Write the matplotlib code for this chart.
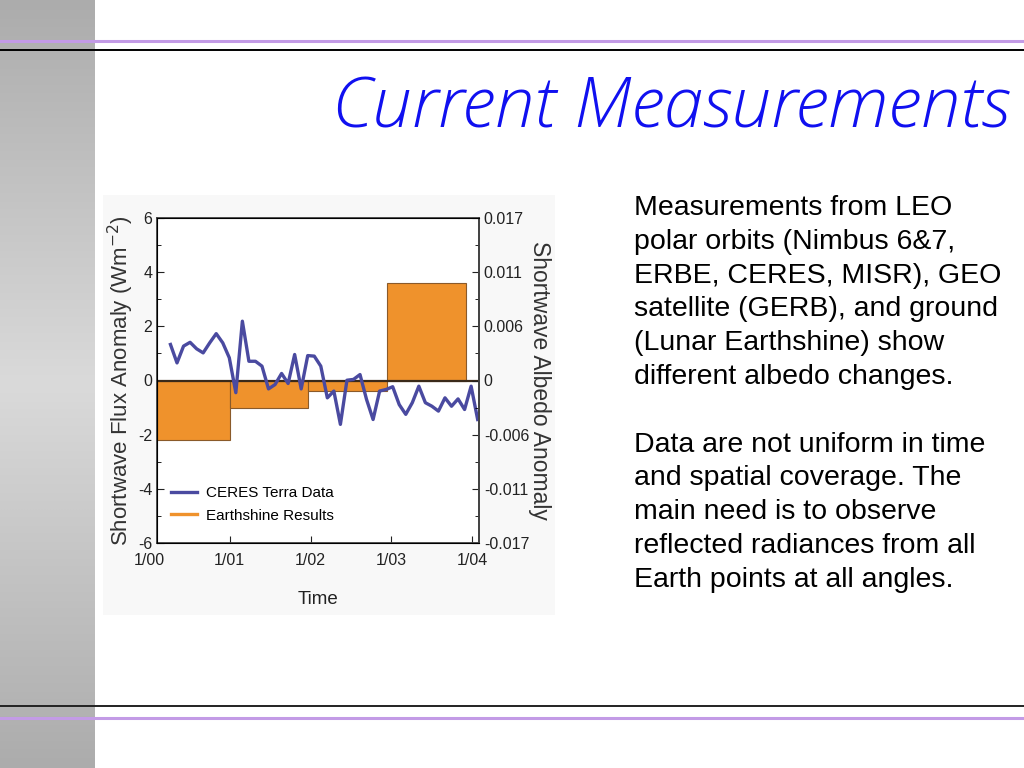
import numpy as np
import matplotlib
matplotlib.use("Agg")
import matplotlib.pyplot as plt
from matplotlib.patches import Rectangle
from matplotlib.lines import Line2D
from matplotlib.colors import LinearSegmentedColormap

plt.rcParams["axes.unicode_minus"] = False

# --- data ---
# CERES Terra monthly flux anomaly (W m-2), starting spring 2000
ceres = [1.33, 0.65, 1.27, 1.41, 1.17, 1.02, 1.39, 1.73, 1.39, 0.84, -0.45, 2.19,
         0.71, 0.71, 0.53, -0.31, -0.15, 0.26, -0.11, 0.96, -0.31, 0.92, 0.90, 0.53,
         -0.64, -0.39, -1.62, 0.01, 0.04, 0.22, -0.70, -1.44, -0.39, -0.33, -0.23, -0.89,
         -1.25, -0.82, -0.21, -0.82, -0.95, -1.13, -0.64, -0.95, -0.68, -1.07, -0.21, -1.44]
ceres_start, ceres_end = 3.2, 48.8          # months after 1/00
# Earthshine yearly results: bin edges (months after 1/00) and values
earth_edges = [1.2, 12, 23.6, 35.4, 47.1]
earth_vals = [-2.2, -1.0, -0.4, 3.6]

year_ticks = [0, 12, 24, 36, 48]
year_labels = ["1/00", "1/01", "1/02", "1/03", "1/04"]
flux_ticks = [6, 4, 2, 0, -2, -4, -6]
albedo_labels = ["0.017", "0.011", "0.006", "0", "-0.006", "-0.011", "-0.017"]

body = ["Measurements from LEO", "polar orbits (Nimbus 6&7,",
        "ERBE, CERES, MISR), GEO", "satellite (GERB), and ground",
        "(Lunar Earthshine) show", "different albedo changes.", "",
        "Data are not uniform in time", "and spatial coverage. The",
        "main need is to observe", "reflected radiances from all",
        "Earth points at all angles."]

fig = plt.figure(figsize=(10.24, 7.68), dpi=100)

# slide background
bg = fig.add_axes([0, 0, 1, 1])
bg.set_xlim(0, 1024)
bg.set_ylim(768, 0)
bg.axis("off")
strip = LinearSegmentedColormap.from_list("strip", ["#acacac", "#dadada"])
grad = 1 - np.abs(np.linspace(-1, 1, 256))[:, None]
bg.imshow(grad, cmap=strip, vmin=0, vmax=1, extent=[0, 95, 768, 0],
          aspect="auto", interpolation="bilinear")
bg.add_patch(Rectangle((103, 195), 452, 420, color="#f8f8f8", lw=0))
bg.axhline(41, color="#c39be6", lw=2.2)
bg.axhline(50, color="black", lw=1.4)
bg.axhline(706, color="#222222", lw=1.4)
bg.axhline(718, color="#c39be6", lw=2.2)
bg.text(1010, 127, "Current Measurements", ha="right", va="baseline",
        color="#1010f0", fontsize=51, style="italic", family="Open Sans",
        fontweight="light")
bg.text(634, 195, "\n".join(body), ha="left", va="top", fontsize=20.5,
        family="Liberation Sans", color="black", linespacing=1.39)

# chart
ax = fig.add_axes([157 / 1024, 1 - 543 / 768, 322 / 1024, 325 / 768])
ax.set_facecolor("white")
xm = np.linspace(ceres_start, ceres_end, len(ceres))
for i, v in enumerate(earth_vals):
    ax.bar(earth_edges[i], v, width=earth_edges[i + 1] - earth_edges[i],
           align="edge", color="#ef922c", edgecolor="#8a5a2a", lw=0.8, zorder=2)
ax.axhline(0, color="#3a2a1a", lw=1.6, zorder=3)
ax.plot(xm, ceres, color="#4a4aa0", lw=2.4, zorder=4)

ax.set_xticks(year_ticks)
ax.set_xticklabels(year_labels)
ax.set_xlim(1.2, 49)
ax.set_yticks(flux_ticks)
ax.set_yticks(np.arange(-5, 6, 2), minor=True)
ax.set_ylim(-6, 6)
ax.tick_params(direction="in", length=5, labelsize=11.5, colors="#222222",
               top=False)
ax.tick_params(axis="x", pad=7)
ax.tick_params(which="minor", direction="in", length=3)
for lab in ax.get_xticklabels() + ax.get_yticklabels():
    lab.set_family("Liberation Sans")
# first year label sits just left of the frame
ax.text(0, -0.03, "1/00", transform=ax.get_xaxis_transform(), ha="center",
        va="top", fontsize=11.5, family="Liberation Sans", color="#222222")
for s in ax.spines.values():
    s.set_color("#444444")
    s.set_linewidth(1.3)
ax.set_xlabel("Time", fontsize=13.5, family="Liberation Sans", color="#222222",
              labelpad=17)
ax.set_ylabel("Shortwave Flux Anomaly (Wm$^{-2}$)", fontsize=16,
              family="Liberation Sans", color="#333333", labelpad=1)

ax2 = ax.twinx()
ax2.set_yticks(flux_ticks)
ax2.set_yticklabels(albedo_labels)
ax2.set_yticks(np.arange(-5, 6, 2), minor=True)
ax2.set_ylim(-6, 6)
ax2.tick_params(direction="in", length=5, labelsize=11.5, colors="#222222")
ax2.tick_params(which="minor", direction="in", length=3)
for lab in ax2.get_yticklabels():
    lab.set_family("Liberation Sans")
ax2.spines["right"].set_color("#444444")
ax2.spines["right"].set_linewidth(1.3)
ax2.set_ylabel("Shortwave Albedo Anomaly", fontsize=16.5, rotation=-90,
               family="Liberation Sans", color="#333333", labelpad=16)

hl = [Line2D([], [], color="#4a4aa0", lw=2.4), Line2D([], [], color="#ef922c", lw=2.4)]
ax.legend(hl, ["CERES Terra Data", "Earthshine Results"], loc="lower left",
          bbox_to_anchor=(0.0, 0.02), frameon=False, handlelength=1.7,
          handletextpad=0.6, labelspacing=0.55,
          prop={"family": "Liberation Sans", "size": 11})

fig.savefig("out.png", dpi=100)
